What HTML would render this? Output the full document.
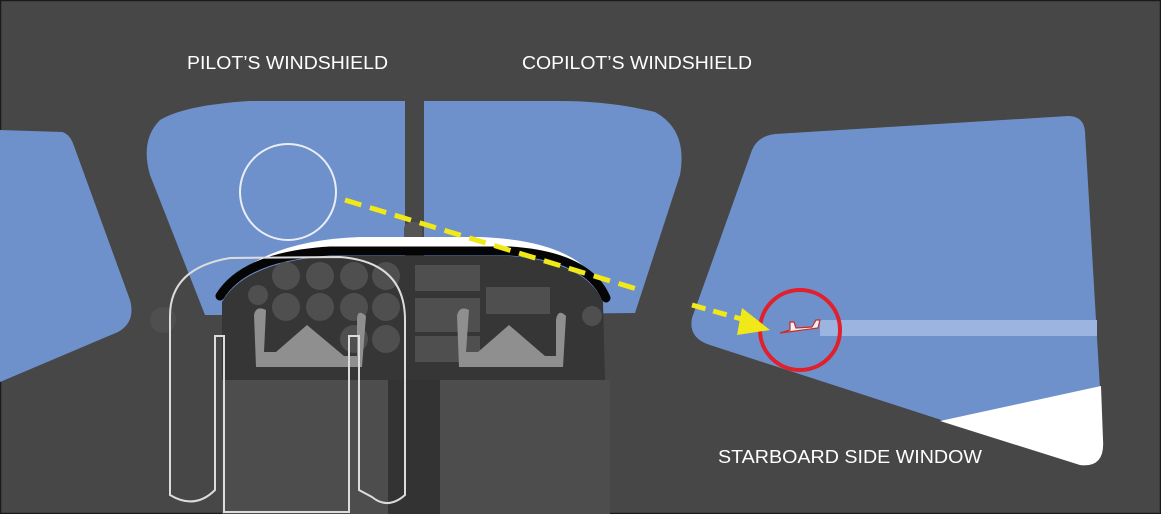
<!DOCTYPE html>
<html><head><style>html,body{margin:0;padding:0;background:#474747}svg{display:block}</style></head>
<body>
<svg width="1161" height="514" viewBox="0 0 1161 514" xmlns="http://www.w3.org/2000/svg">
<rect x="0" y="0" width="1161" height="514" fill="#474747"/>
<rect x="0.5" y="0.5" width="1160" height="513" fill="none" stroke="#1a1a1a" stroke-width="1.5"/>
<path d="M0,130 L62,132 Q70,134 74,146 L130,300 Q136,322 118,332 L0,382 Z" fill="#6f91cb"/>
<path d="M405,101 L405,315 L205,315 L150,175 Q140,140 160,120 Q185,105 250,101 Z" fill="#6f91cb"/>
<path d="M424,101 L424,315 L635,313 L680,175 Q688,130 655,112 Q610,101 560,101 Z" fill="#6f91cb"/>
<rect x="405" y="80" width="19" height="240" fill="#474747"/>
<path d="M775,134 L1068,116 Q1084,116 1085,132 L1103,440 Q1105,468 1080,465 L710,345 Q688,338 692,318 L752,150 Q758,136 775,134 Z" fill="#6f91cb"/>
<path d="M940,421 L1101,386 L1103,440 Q1105,468 1080,465 Z" fill="#ffffff"/>
<rect x="820" y="320" width="277" height="16" fill="#9cb5e0"/>
<path d="M780,333 L818,328 L820,320 L816,320 L812,327 L796,328 L794,322 L790,322 L790,330 Z" fill="#f2f2f2" stroke="#cc2a2a" stroke-width="1.2"/>
<circle cx="800" cy="330" r="40" fill="none" stroke="#e0202a" stroke-width="4"/>
<!-- dashboard -->
<rect x="404" y="222" width="18" height="30" rx="7" fill="#555"/>
<path d="M240,272 Q280,240 360,237 L480,237 Q560,240 590,272 Q560,252 500,250 L330,250 Q270,252 240,272 Z" fill="#ffffff"/>
<path d="M222,302 Q245,262 330,256 L510,256 Q586,262 603,302 L605,380 L222,380 Z" fill="#363636"/>
<path d="M220,296 Q245,256 330,251 L510,251 Q588,256 606,298" fill="none" stroke="#050505" stroke-width="9" stroke-linecap="round"/>
<rect x="222" y="380" width="166" height="134" fill="#4d4d4d"/>
<rect x="388" y="380" width="52" height="134" fill="#333"/>
<rect x="440" y="380" width="170" height="134" fill="#4d4d4d"/>
<g fill="#4f4f4f">
<circle cx="286" cy="276" r="14"/><circle cx="320" cy="276" r="14"/><circle cx="354" cy="276" r="14"/><circle cx="386" cy="276" r="14"/>
<circle cx="258" cy="295" r="10"/>
<circle cx="286" cy="307" r="14"/><circle cx="320" cy="307" r="14"/><circle cx="354" cy="307" r="14"/><circle cx="386" cy="307" r="14"/>
<circle cx="354" cy="339" r="14"/><circle cx="386" cy="339" r="14"/>
<circle cx="163" cy="320" r="13"/><circle cx="592" cy="316" r="10"/>
<rect x="415" y="265" width="65" height="26"/><rect x="415" y="298" width="65" height="34"/><rect x="415" y="336" width="65" height="26"/>
<rect x="486" y="287" width="64" height="27"/>
</g>
<g fill="#8f8f8f">
<path d="M254,315 Q256,305 266,310 L264,352 L276,352 L307,325 L344,356 L357,356 L357,320 Q357,308 366,316 L362,367 L256,367 Z"/>
<path d="M457,316 Q459,305 469,310 L466,352 L478,352 L509,325 L545,356 L556,356 L556,320 Q558,308 566,316 L563,367 L459,367 Z"/>
</g>
<circle cx="288" cy="192" r="48" fill="none" stroke="#e8eef8" stroke-width="2"/>
<path d="M170,495 L170,316 Q170,268 230,258 L340,257 Q405,262 405,320 L405,495 Q388,510 372,497 L359,490 L359,336 L349,336 L349,512 L224,512 L224,336 L215,336 L215,490 Q195,510 170,495 Z" fill="none" stroke="#dcdcdc" stroke-width="2"/>
<line x1="345" y1="200" x2="640" y2="290" stroke="#f0e818" stroke-width="5" stroke-dasharray="17,9"/>
<line x1="692" y1="305" x2="745" y2="320" stroke="#f0e818" stroke-width="5" stroke-dasharray="14,8"/>
<path d="M742,308 L770,330 L737,335 Z" fill="#f0e818"/>
<g font-family="'Liberation Sans', sans-serif" font-size="18" fill="#ffffff">
<text x="187" y="69" textLength="201" lengthAdjust="spacingAndGlyphs">PILOT’S WINDSHIELD</text>
<text x="522" y="69" textLength="230" lengthAdjust="spacingAndGlyphs">COPILOT’S WINDSHIELD</text>
<text x="718" y="463" textLength="264" lengthAdjust="spacingAndGlyphs">STARBOARD SIDE WINDOW</text>
</g>
</svg>
</body></html>
